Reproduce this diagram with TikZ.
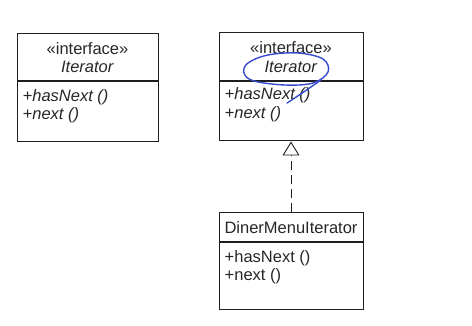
\documentclass[tikz,border=0pt]{standalone}
\usepackage{fontspec}
\setmainfont{Liberation Sans}
\usetikzlibrary{positioning,arrows.meta}
\definecolor{umlline}{RGB}{30,30,30}
\definecolor{pen}{RGB}{55,75,205}
\tikzset{
  classhead/.style={draw=umlline,line width=1pt,align=center,inner sep=2pt},
  classbody/.style={draw=umlline,line width=1pt,anchor=north,inner sep=0pt},
  ops/.style={anchor=north west,align=left,inner xsep=6pt,inner ysep=7.5pt},
  realize/.style={umlline,line width=0.9pt,dash pattern=on 9pt off 5pt,
    -{Triangle[open,width=17pt,length=14pt,fill=white]}}
}
\begin{document}
\begin{tikzpicture}[x=1pt,y=-1pt,every node/.style={font=\fontsize{16.5}{18.5}\selectfont,text=black!85}]
\useasboundingbox (0,0) rectangle (472,326);
% plain interface
\node[classhead,minimum width=141pt,minimum height=47pt] (itf1) at (87.5,57.5) {«interface»\\\textit{Iterator}};
\node[classbody,minimum width=141pt,minimum height=60pt] (itf1body) at (itf1.south) {};
\node[ops] (itf1ops) at (itf1body.north west) {\textit{+hasNext ()}\\\textit{+next ()}};
% annotated interface
\node[classhead,minimum width=144pt,minimum height=48pt] (itf2) at (291,57) {«interface»\\\textit{Iterator}};
\node[classbody,minimum width=144pt,minimum height=59pt] (itf2body) at (itf2.south) {};
\node[ops,inner ysep=6pt] (itf2ops) at (itf2body.north west) {\textit{+hasNext ()}\\\textit{+next ()}};
% implementing class
\node[classhead,minimum width=144pt,minimum height=29pt] (dmi) at (291,227.5) {DinerMenuIterator};
\node[classbody,minimum width=144pt,minimum height=67pt] (dmibody) at (dmi.south) {};
\node[ops] (dmiops) at (dmibody.north west) {+hasNext ()\\+next ()};
\draw[realize] (dmi.north) -- (itf2body.south);
% pen marks
\draw[pen,line width=1.4pt,line cap=round] plot[smooth cycle,tension=0.6] coordinates
  {(298,53) (268,55) (248,63) (244,73) (254,81) (285,85) (313,83) (328,72) (323,59)};
\draw[pen,line width=1.4pt,line cap=round] (321,80) .. controls (308,89) and (298,96) .. (287,103);
\end{tikzpicture}
\end{document}
